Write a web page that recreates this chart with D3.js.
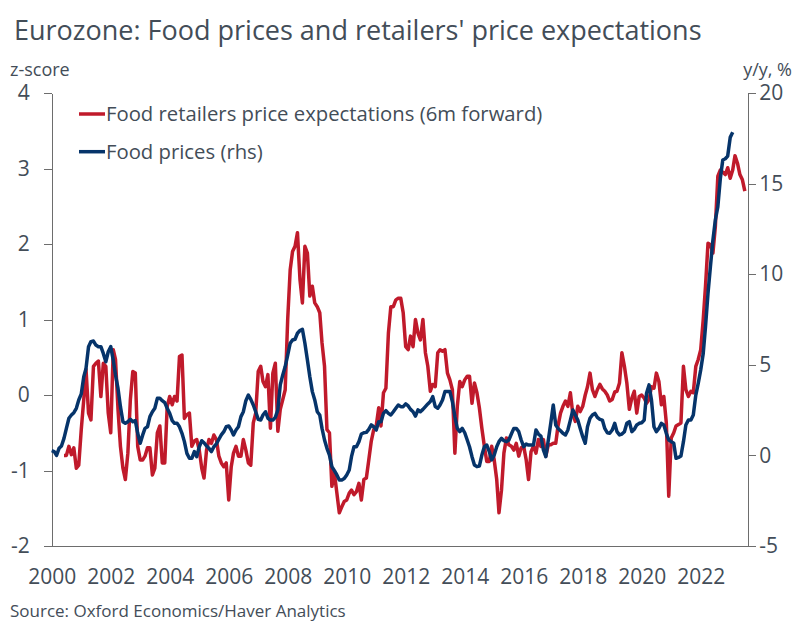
<!DOCTYPE html>
<html>
<head>
<meta charset="utf-8">
<script src="https://cdn.jsdelivr.net/npm/d3@7"></script>
<style>
  body { margin: 0; background: #fff; }
  svg text { font-family: "Open Sans", "Noto Sans", sans-serif; fill: #434d58; }
  .axis path, .axis line { stroke: #6d6d6d; stroke-width: 1; shape-rendering: crispEdges; }
</style>
</head>
<body>
<div id="chart"></div>
<script>
// retailers' 6m-forward price expectations, z-score, monthly from Jun 2000
var retailStart = [2000, 5];
var retailValues = [
  -0.80, -0.80, -0.68, -0.79, -0.70, -0.97, -0.93, -0.46, -0.06, 0.34,
  -0.24, -0.33, 0.38, 0.42, 0.45, -0.02, 0.42, 0.38, -0.24, -0.50,
  0.60, 0.47, -0.19, -0.68, -0.97, -1.12, -0.77, -0.06, 0.31, 0.29,
  -0.68, -0.86, -0.86, -0.81, -0.70, -0.70, -1.06, -0.97, -0.50, -0.41,
  -0.90, -0.90, -0.15, -0.02, -0.13, -0.02, -0.08, 0.51, 0.53, -0.31,
  -0.26, -0.24, -0.68, -0.61, -0.59, -0.73, -0.97, -1.10, -0.73, -0.59,
  -0.64, -0.53, -0.59, -0.81, -0.90, -0.95, -0.90, -1.39, -0.95, -0.77,
  -0.68, -0.81, -0.81, -0.59, -0.73, -0.90, -0.93, -0.37, -0.24, 0.31,
  0.38, 0.18, 0.11, 0.27, -0.44, 0.29, 0.42, -0.48, -0.19, -0.06,
  0.07, 1.00, 1.66, 1.90, 1.97, 2.15, 1.53, 1.22, 1.97, 1.88,
  1.31, 1.44, 1.22, 1.17, 1.09, 0.69, 0.38, -0.46, -0.50, -1.21,
  -1.03, -1.30, -1.56, -1.48, -1.41, -1.39, -1.30, -1.26, -1.32, -1.28,
  -1.17, -1.39, -1.12, -1.10, -0.86, -0.61, -0.46, -0.41, -0.17, -0.41,
  0.03, 0.09, 0.82, 1.17, 1.17, 1.26, 1.28, 1.28, 1.09, 0.64,
  0.60, 0.78, 0.64, 1.00, 0.82, 0.73, 1.00, 0.56, 0.38, 0.05,
  0.14, 0.11, 0.56, 0.60, 0.58, 0.60, 0.29, 0.20, 0.07, -0.77,
  -0.15, 0.18, 0.11, 0.20, 0.25, 0.25, -0.11, 0.16, 0.03, -0.17,
  -0.44, -0.68, -0.88, -0.88, -0.68, -0.86, -1.12, -1.56, -1.26, -0.77,
  -0.57, -0.66, -0.68, -0.73, -0.64, -0.81, -0.70, -0.68, -0.86, -1.12,
  -0.75, -0.68, -0.77, -0.59, -0.68, -0.59, -0.81, -0.66, -0.66, -0.64,
  -0.64, -0.41, -0.24, -0.15, -0.08, -0.15, 0.03, -0.26, -0.35, -0.15,
  -0.22, -0.15, 0.00, 0.11, 0.29, 0.07, -0.02, 0.07, 0.14, 0.08,
  0.05, 0.00, -0.08, -0.06, 0.04, 0.05, 0.16, 0.56, 0.38, 0.16,
  -0.19, -0.04, 0.05, -0.24, -0.02, 0.00, -0.04, -0.11, -0.06, 0.11,
  0.09, 0.29, 0.18, -0.13, -0.02, -0.37, -1.34, -0.57, -0.50, -0.41,
  -0.39, -0.37, 0.38, 0.07, -0.02, 0.05, 0.03, 0.38, 0.47, 0.60,
  1.00, 1.44, 2.01, 1.99, 1.88, 2.23, 2.90, 2.98, 2.95, 2.92,
  3.01, 2.87, 2.98, 3.17, 3.07, 2.92, 2.85, 2.70
];

// food prices, % y/y, monthly from Jan 2000 (rhs)
var foodStart = [2000, 0];
var foodValues = [
  0.26, 0.21, 0.00, 0.39, 0.52, 0.94, 1.49, 2.05, 2.23, 2.36,
  2.60, 3.06, 3.39, 4.34, 4.80, 6.00, 6.28, 6.31, 6.09, 6.00,
  6.00, 5.63, 5.17, 5.72, 6.00, 5.26, 4.44, 3.70, 2.69, 1.86,
  1.77, 1.86, 1.99, 1.86, 1.92, 1.22, 0.67, 1.13, 1.49, 1.58,
  2.14, 2.41, 2.60, 3.15, 3.15, 3.02, 2.91, 2.60, 2.32, 1.92,
  1.77, 1.77, 1.58, 1.22, 0.76, 0.11, -0.16, -0.16, 0.21, -0.07,
  0.48, 0.81, 0.70, 0.52, 0.39, 0.21, 0.48, 0.63, 0.89, 1.13,
  1.31, 1.58, 1.62, 1.40, 1.13, 1.40, 1.58, 2.14, 2.41, 3.02,
  3.33, 3.09, 2.78, 2.41, 1.99, 1.95, 2.23, 2.41, 2.05, 1.95,
  1.95, 2.10, 2.51, 3.89, 4.44, 4.90, 5.54, 6.19, 6.37, 6.41,
  6.74, 6.89, 6.96, 6.19, 5.26, 4.34, 3.52, 3.06, 2.41, 2.23,
  1.49, 0.85, 0.39, 0.02, -0.62, -0.84, -1.08, -1.36, -1.36, -1.28,
  -1.08, -0.81, -0.07, 0.48, 0.48, 0.76, 1.18, 1.25, 1.27, 1.44,
  1.68, 1.58, 1.40, 1.86, 1.86, 2.32, 2.47, 2.32, 2.23, 2.41,
  2.60, 2.78, 2.69, 2.69, 2.84, 2.73, 2.54, 2.41, 2.17, 2.51,
  2.41, 2.54, 2.69, 2.84, 2.97, 3.24, 2.69, 2.60, 2.78, 3.06,
  3.52, 3.52, 3.52, 2.97, 2.14, 1.49, 1.31, 1.49, 1.25, 0.85,
  0.48, -0.07, -0.53, -0.62, -0.59, 0.02, 0.48, 0.57, 0.21, -0.25,
  0.02, 0.48, 0.76, 0.94, 0.81, 0.76, 0.85, 1.18, 1.49, 1.49,
  1.31, 0.85, 0.48, 0.63, 0.57, 0.57, 0.57, 1.40, 1.18, 1.07,
  0.30, -0.07, 0.85, 1.77, 2.78, 1.68, 1.49, 1.36, 1.22, 1.13,
  1.40, 1.95, 2.51, 2.23, 1.95, 1.49, 1.03, 0.67, 1.58, 2.05,
  2.23, 2.32, 2.10, 1.99, 1.95, 1.49, 1.25, 1.22, 1.40, 1.77,
  1.31, 1.13, 1.18, 1.31, 1.77, 1.86, 1.31, 1.44, 1.68, 1.77,
  1.80, 1.95, 3.43, 3.89, 3.06, 1.58, 1.31, 1.49, 1.77, 1.68,
  1.22, 0.85, 0.76, 0.67, -0.16, -0.11, -0.03, 0.76, 1.68, 1.95,
  1.95, 2.23, 3.33, 3.98, 4.72, 5.63, 7.10, 8.94, 10.42, 11.89,
  12.99, 13.73, 15.29, 16.30, 16.37, 16.52, 17.55, 17.83
];

var xTickYears = [2000, 2002, 2004, 2006, 2008, 2010, 2012, 2014, 2016, 2018, 2020, 2022];
var leftTicks = [-2, -1, 0, 1, 2, 3, 4];
var rightTicks = [-5, 0, 5, 10, 15, 20];
var seriesNames = ["Food retailers price expectations (6m forward)", "Food prices (rhs)"];
var seriesColors = ["#c01a2b", "#06346a"];

var width = 802, height = 638;
var margin = {left: 51.7, right: 802 - 748.3, top: 93, bottom: 638 - 546};

function toSeries(start, values) {
  return values.map(function(v, i) {
    return {date: new Date(start[0], start[1] + i, 1), value: v};
  });
}
var retail = toSeries(retailStart, retailValues);
var food = toSeries(foodStart, foodValues);

var svg = d3.select('#chart').append('svg')
  .attr('width', width)
  .attr('height', height);

var x = d3.scaleTime()
  .domain([new Date(2000, 0, 1), new Date(2023, 7, 13)])
  .range([margin.left, width - margin.right]);

var yL = d3.scaleLinear().domain([-2, 4]).range([height - margin.bottom, margin.top]);
var yR = d3.scaleLinear().domain([-5, 20]).range([height - margin.bottom, margin.top]);

var plain = function(d) { return String(d); };

// title and axis captions
svg.append('text')
  .attr('x', 14).attr('y', 40)
  .style('font-size', '27px')
  .text("Eurozone: Food prices and retailers' price expectations");

svg.append('text')
  .attr('x', 10).attr('y', 76)
  .style('font-size', '18px')
  .text('z-score');

svg.append('text')
  .attr('x', 792).attr('y', 76)
  .attr('text-anchor', 'end')
  .style('font-size', '18px')
  .text('y/y, %');

// axes
svg.append('g').attr('class', 'axis')
  .attr('transform', 'translate(' + margin.left + ',0)')
  .call(d3.axisLeft(yL).tickValues(leftTicks).tickSize(8).tickSizeOuter(0).tickPadding(14)
    .tickFormat(plain));

svg.append('g').attr('class', 'axis')
  .attr('transform', 'translate(' + (width - margin.right) + ',0)')
  .call(d3.axisRight(yR).tickValues(rightTicks).tickSize(8).tickSizeOuter(0).tickPadding(3)
    .tickFormat(plain));

svg.append('g').attr('class', 'axis')
  .attr('transform', 'translate(0,' + (height - margin.bottom) + ')')
  .call(d3.axisBottom(x)
    .tickValues(xTickYears.map(function(yr) { return new Date(yr, 0, 1); }))
    .tickSize(0).tickSizeOuter(0).tickPadding(23)
    .tickFormat(d3.timeFormat('%Y')));

svg.selectAll('.axis text')
  .style('font-size', '21px')
  .style('font-family', '"Open Sans", "Noto Sans", sans-serif')
  .attr('fill', '#434d58');

// lines
var lineL = d3.line()
  .x(function(d) { return x(d.date); })
  .y(function(d) { return yL(d.value); });
var lineR = d3.line()
  .x(function(d) { return x(d.date); })
  .y(function(d) { return yR(d.value); });

svg.append('path')
  .datum(retail)
  .attr('fill', 'none')
  .attr('stroke', seriesColors[0])
  .attr('stroke-width', 3.5)
  .attr('stroke-linejoin', 'round')
  .attr('d', lineL);

svg.append('path')
  .datum(food)
  .attr('fill', 'none')
  .attr('stroke', seriesColors[1])
  .attr('stroke-width', 3.5)
  .attr('stroke-linejoin', 'round')
  .attr('d', lineR);

// legend
var legend = svg.append('g').attr('class', 'legend')
  .attr('transform', 'translate(79,114)');

var item = legend.selectAll('g')
  .data(seriesNames)
  .enter().append('g')
    .attr('transform', function(d, i) { return 'translate(0,' + (i * 37.7) + ')'; });

item.append('line')
  .attr('x1', 0).attr('x2', 26)
  .attr('stroke', function(d, i) { return seriesColors[i]; })
  .attr('stroke-width', 3.5);

item.append('text')
  .attr('x', 27).attr('dy', '0.35em')
  .style('font-size', '20.3px')
  .text(function(d) { return d; });

svg.append('text')
  .attr('x', 10).attr('y', 617)
  .style('font-size', '17px')
  .text('Source: Oxford Economics/Haver Analytics');
</script>
</body>
</html>
